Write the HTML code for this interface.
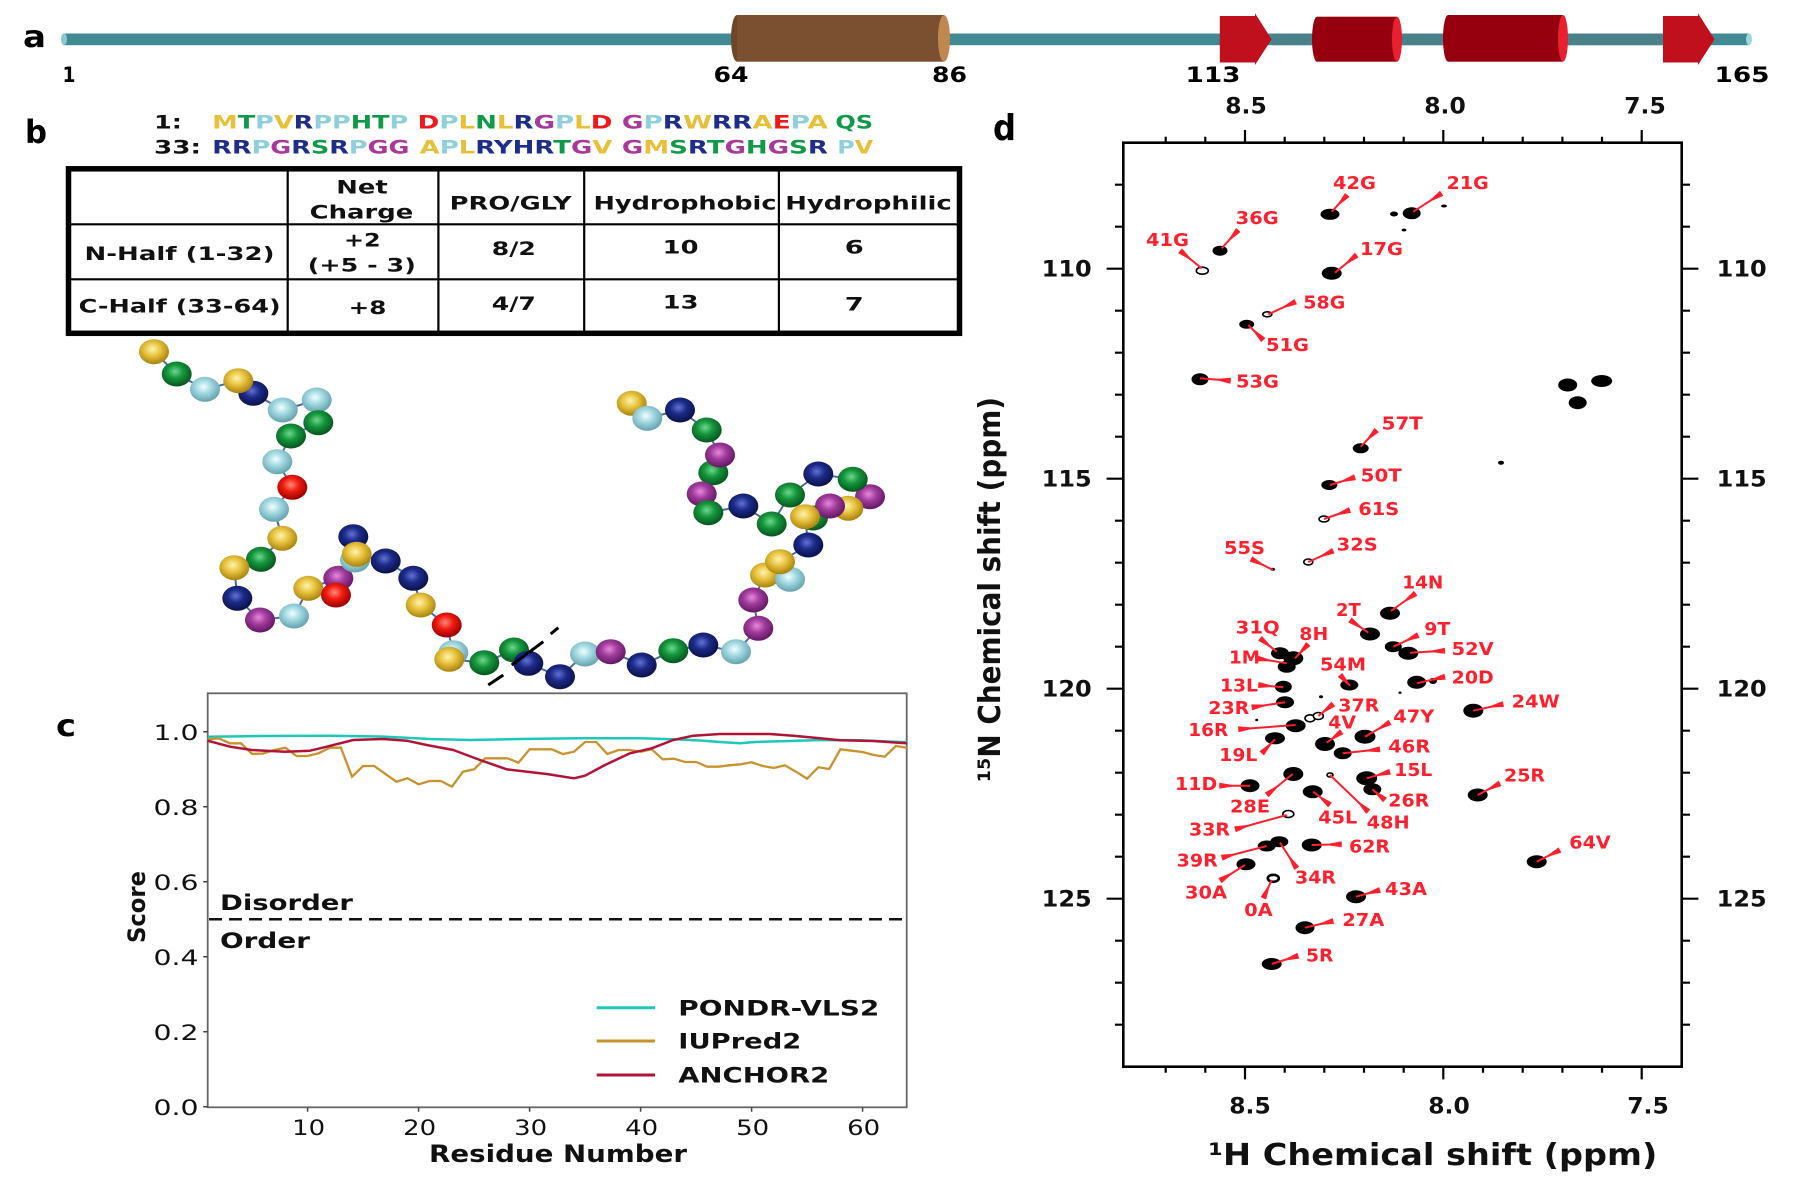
<!DOCTYPE html>
<html><head><meta charset="utf-8"><style>
html,body{margin:0;padding:0;background:#fff;}
svg{display:block;}
text{font-family:"DejaVu Sans","Liberation Sans",sans-serif;}
.b{font-weight:bold;}
.lab{font-weight:bold;font-size:18px;fill:#ff1f2d;}
.ld{stroke:#ff1f2d;stroke-width:2;marker-start:url(#w);}
</style></head><body>
<svg width="1795" height="1191" viewBox="0 0 1795 1191" xmlns="http://www.w3.org/2000/svg">
<defs>
<marker id="w" markerUnits="userSpaceOnUse" markerWidth="30" markerHeight="12" refX="0" refY="3" orient="auto" overflow="visible"><path d="M0,0 L15,2.5 L15,3.5 L0,6 Z" fill="#ff1f2d"/></marker>
<radialGradient id="gy" cx="0.45" cy="0.4" r="0.6"><stop offset="0" stop-color="#fff3b0"/><stop offset="0.45" stop-color="#e8c440"/><stop offset="1" stop-color="#a8820c"/></radialGradient>
<radialGradient id="gg" cx="0.45" cy="0.4" r="0.6"><stop offset="0" stop-color="#6ed88c"/><stop offset="0.45" stop-color="#14963c"/><stop offset="1" stop-color="#08541e"/></radialGradient>
<radialGradient id="gl" cx="0.45" cy="0.4" r="0.6"><stop offset="0" stop-color="#f0ffff"/><stop offset="0.45" stop-color="#a2d8e0"/><stop offset="1" stop-color="#64a2ae"/></radialGradient>
<radialGradient id="gn" cx="0.45" cy="0.4" r="0.6"><stop offset="0" stop-color="#6272d4"/><stop offset="0.45" stop-color="#1c2a88"/><stop offset="1" stop-color="#0a1248"/></radialGradient>
<radialGradient id="gr" cx="0.45" cy="0.4" r="0.6"><stop offset="0" stop-color="#ff8a78"/><stop offset="0.45" stop-color="#f01c10"/><stop offset="1" stop-color="#980000"/></radialGradient>
<radialGradient id="gm" cx="0.45" cy="0.4" r="0.6"><stop offset="0" stop-color="#e888de"/><stop offset="0.45" stop-color="#a03c9c"/><stop offset="1" stop-color="#641664"/></radialGradient>
</defs>

<!-- ===== Panel a ===== -->
<text x="23" y="47" class="b" font-size="30" textLength="23" lengthAdjust="spacingAndGlyphs">a</text>
<rect x="63" y="33.5" width="1686" height="11.7" fill="#3f8a93"/>
<ellipse cx="64" cy="39.3" rx="3" ry="5.85" fill="#8cc8ce"/>
<ellipse cx="1749" cy="39.3" rx="3" ry="5.85" fill="#9fd8dc"/>
<rect x="1272" y="33.5" width="390" height="11.7" fill="#4a8088"/>
<!-- brown cylinder -->
<ellipse cx="737" cy="38.35" rx="6" ry="23.35" fill="#6e4628"/>
<rect x="737" y="15" width="207" height="46.7" fill="#7a5030"/>
<ellipse cx="944" cy="38.35" rx="6" ry="23.35" fill="#c08850"/>
<!-- red arrows and cylinders -->
<polygon points="1219.8,16 1255,16 1255,13.3 1271.6,39.3 1255,65 1255,62.5 1219.8,62.5" fill="#c0101e"/>
<ellipse cx="1317" cy="39.2" rx="5" ry="22.5" fill="#96000e"/>
<rect x="1317" y="16.7" width="80" height="45" fill="#96000e"/>
<ellipse cx="1397" cy="39.2" rx="5" ry="22.5" fill="#e82030"/>
<ellipse cx="1448" cy="38.35" rx="5" ry="23.35" fill="#96000e"/>
<rect x="1448" y="15" width="115" height="46.7" fill="#96000e"/>
<ellipse cx="1563" cy="38.35" rx="5" ry="23.35" fill="#e82030"/>
<polygon points="1663,16 1698,16 1698,13.3 1714.6,39.3 1698,65 1698,62.5 1663,62.5" fill="#c0101e"/>
<g class="b" font-size="21" text-anchor="middle">
<text x="69" y="82" textLength="13" lengthAdjust="spacingAndGlyphs">1</text>
<text x="731" y="82" textLength="35" lengthAdjust="spacingAndGlyphs">64</text>
<text x="949.5" y="82" textLength="35" lengthAdjust="spacingAndGlyphs">86</text>
<text x="1213" y="82" textLength="55" lengthAdjust="spacingAndGlyphs">113</text>
<text x="1742" y="82" textLength="55" lengthAdjust="spacingAndGlyphs">165</text>
</g>

<!-- ===== Panel b ===== -->
<text x="25" y="143" class="b" font-size="32" textLength="22" lengthAdjust="spacingAndGlyphs">b</text>
<g class="b" font-size="18.5">
<text x="154" y="128.3" fill="#111" textLength="28" lengthAdjust="spacingAndGlyphs">1:</text>
<text x="154" y="153.3" fill="#111" textLength="47" lengthAdjust="spacingAndGlyphs">33:</text>
<text x="212.3" y="128.3" textLength="196" lengthAdjust="spacingAndGlyphs"><tspan fill="#e6c038">M</tspan><tspan fill="#0f9a48">T</tspan><tspan fill="#8fd0dc">P</tspan><tspan fill="#e6c038">V</tspan><tspan fill="#1e2d8a">R</tspan><tspan fill="#8fd0dc">PP</tspan><tspan fill="#0f9a48">HT</tspan><tspan fill="#8fd0dc">P</tspan></text>
<text x="417.7" y="128.3" textLength="194.7" lengthAdjust="spacingAndGlyphs"><tspan fill="#f01818">D</tspan><tspan fill="#8fd0dc">P</tspan><tspan fill="#e6c038">L</tspan><tspan fill="#0f9a48">N</tspan><tspan fill="#e6c038">L</tspan><tspan fill="#1e2d8a">R</tspan><tspan fill="#a8389a">G</tspan><tspan fill="#8fd0dc">P</tspan><tspan fill="#e6c038">L</tspan><tspan fill="#f01818">D</tspan></text>
<text x="621.9" y="128.3" textLength="206" lengthAdjust="spacingAndGlyphs"><tspan fill="#a8389a">G</tspan><tspan fill="#8fd0dc">P</tspan><tspan fill="#1e2d8a">R</tspan><tspan fill="#e6c038">W</tspan><tspan fill="#1e2d8a">RR</tspan><tspan fill="#e6c038">A</tspan><tspan fill="#f01818">E</tspan><tspan fill="#8fd0dc">P</tspan><tspan fill="#e6c038">A</tspan></text>
<text x="835.4" y="128.3" textLength="37.7" lengthAdjust="spacingAndGlyphs" fill="#0f9a48">QS</text>
<text x="212.3" y="153.3" textLength="197.2" lengthAdjust="spacingAndGlyphs"><tspan fill="#1e2d8a">RR</tspan><tspan fill="#8fd0dc">P</tspan><tspan fill="#a8389a">G</tspan><tspan fill="#1e2d8a">R</tspan><tspan fill="#0f9a48">S</tspan><tspan fill="#1e2d8a">R</tspan><tspan fill="#8fd0dc">P</tspan><tspan fill="#a8389a">GG</tspan></text>
<text x="419.6" y="153.3" textLength="192.8" lengthAdjust="spacingAndGlyphs"><tspan fill="#e6c038">A</tspan><tspan fill="#8fd0dc">P</tspan><tspan fill="#e6c038">L</tspan><tspan fill="#1e2d8a">RYHR</tspan><tspan fill="#0f9a48">T</tspan><tspan fill="#a8389a">G</tspan><tspan fill="#e6c038">V</tspan></text>
<text x="621.9" y="153.3" textLength="206" lengthAdjust="spacingAndGlyphs"><tspan fill="#a8389a">G</tspan><tspan fill="#e6c038">M</tspan><tspan fill="#0f9a48">S</tspan><tspan fill="#1e2d8a">R</tspan><tspan fill="#0f9a48">T</tspan><tspan fill="#a8389a">G</tspan><tspan fill="#0f9a48">H</tspan><tspan fill="#a8389a">G</tspan><tspan fill="#0f9a48">S</tspan><tspan fill="#1e2d8a">R</tspan></text>
<text x="837.3" y="153.3" textLength="35.8" lengthAdjust="spacingAndGlyphs"><tspan fill="#8fd0dc">P</tspan><tspan fill="#e6c038">V</tspan></text>
</g>
<!-- table -->
<rect x="68.5" y="168.8" width="891" height="164.5" fill="none" stroke="#000" stroke-width="5.5"/>
<g stroke="#000" stroke-width="2.2">
<line x1="287.7" y1="168" x2="287.7" y2="334"/>
<line x1="438.4" y1="168" x2="438.4" y2="334"/>
<line x1="584.2" y1="168" x2="584.2" y2="334"/>
<line x1="778.9" y1="168" x2="778.9" y2="334"/>
<line x1="68" y1="224.3" x2="960" y2="224.3"/>
<line x1="68" y1="279.3" x2="960" y2="279.3"/>
</g>
<g class="b" font-size="19" text-anchor="middle" fill="#111">
<text x="362" y="193.3" textLength="51.5" lengthAdjust="spacingAndGlyphs">Net</text>
<text x="361.5" y="218.3" textLength="103.6" lengthAdjust="spacingAndGlyphs">Charge</text>
<text x="510.7" y="209.5" textLength="122" lengthAdjust="spacingAndGlyphs">PRO/GLY</text>
<text x="685" y="209.5" textLength="183" lengthAdjust="spacingAndGlyphs">Hydrophobic</text>
<text x="868.5" y="209.5" textLength="166.5" lengthAdjust="spacingAndGlyphs">Hydrophilic</text>
<text x="179.5" y="260" textLength="190" lengthAdjust="spacingAndGlyphs">N-Half (1-32)</text>
<text x="362.3" y="246.7" textLength="36.6" lengthAdjust="spacingAndGlyphs">+2</text>
<text x="361.8" y="271.7" textLength="108" lengthAdjust="spacingAndGlyphs">(+5 - 3)</text>
<text x="513.8" y="255" textLength="44" lengthAdjust="spacingAndGlyphs">8/2</text>
<text x="680.6" y="253.3" textLength="35.8" lengthAdjust="spacingAndGlyphs">10</text>
<text x="854.3" y="253.3" textLength="19" lengthAdjust="spacingAndGlyphs">6</text>
<text x="179.6" y="312.7" textLength="202" lengthAdjust="spacingAndGlyphs">C-Half (33-64)</text>
<text x="367.5" y="314" textLength="37.7" lengthAdjust="spacingAndGlyphs">+8</text>
<text x="513.8" y="310" textLength="44" lengthAdjust="spacingAndGlyphs">4/7</text>
<text x="680.6" y="308.3" textLength="35.8" lengthAdjust="spacingAndGlyphs">13</text>
<text x="854.3" y="310.7" textLength="19" lengthAdjust="spacingAndGlyphs">7</text>
</g>
<!-- bead chain -->
<polyline fill="none" stroke="#4a6aa8" stroke-width="2" points="154,351.7 176.7,374 205,389.3 238.3,380.7 253.3,393.3 282.7,410 316.7,400 318.3,422.7 291,436 277.3,461.7 292.3,487.3 274,509.3 282.3,538.3 261,559.3 234.3,567.7 237.3,598.3 260,620 294,616 308.3,588.3 338.3,578.3 336,595 355,560 353.3,536.7 356.7,554.3 385.7,561 413.3,578.3 420.7,605 446.7,625 453.3,652.7 449.3,659.3 484.3,662.7 514,650 528.3,663.3 560,676.7 585,654 610.7,651.7 641.7,665 673.3,650.7 703.3,645 736,651.7 758.3,628.3 753.3,600 765,575 790,579.3 780,561.7 808.3,545 805,516.7 813,518 830,506 848.3,508.3 870,496.7 852.7,479.3 818.3,474 790,495 771.7,524 743.3,506 708.3,512.7 701.7,494 713.3,472.7 720,455 706.7,430 680,410 647.3,418.3 631.7,403.3"/>
<g>
<ellipse cx="154" cy="351.7" rx="15" ry="12.5" fill="url(#gy)"/>
<ellipse cx="176.7" cy="374" rx="15" ry="12.5" fill="url(#gg)"/>
<ellipse cx="205" cy="389.3" rx="15" ry="12.5" fill="url(#gl)"/>
<ellipse cx="253.3" cy="393.3" rx="15" ry="12.5" fill="url(#gn)"/>
<ellipse cx="238.3" cy="380.7" rx="15" ry="12.5" fill="url(#gy)"/>
<ellipse cx="316.7" cy="400" rx="15" ry="12.5" fill="url(#gl)"/>
<ellipse cx="318.3" cy="422.7" rx="15" ry="12.5" fill="url(#gg)"/>
<ellipse cx="282.7" cy="410" rx="15" ry="12.5" fill="url(#gl)"/>
<ellipse cx="291" cy="436" rx="15" ry="12.5" fill="url(#gg)"/>
<ellipse cx="277.3" cy="461.7" rx="15" ry="12.5" fill="url(#gl)"/>
<ellipse cx="292.3" cy="487.3" rx="15" ry="12.5" fill="url(#gr)"/>
<ellipse cx="274" cy="509.3" rx="15" ry="12.5" fill="url(#gl)"/>
<ellipse cx="282.3" cy="538.3" rx="15" ry="12.5" fill="url(#gy)"/>
<ellipse cx="261" cy="559.3" rx="15" ry="12.5" fill="url(#gg)"/>
<ellipse cx="234.3" cy="567.7" rx="15" ry="12.5" fill="url(#gy)"/>
<ellipse cx="237.3" cy="598.3" rx="15" ry="12.5" fill="url(#gn)"/>
<ellipse cx="260" cy="620" rx="15" ry="12.5" fill="url(#gm)"/>
<ellipse cx="294" cy="616" rx="15" ry="12.5" fill="url(#gl)"/>
<ellipse cx="338.3" cy="578.3" rx="15" ry="12.5" fill="url(#gm)"/>
<ellipse cx="308.3" cy="588.3" rx="15" ry="12.5" fill="url(#gy)"/>
<ellipse cx="336" cy="595" rx="15" ry="12.5" fill="url(#gr)"/>
<ellipse cx="355" cy="560" rx="15" ry="12.5" fill="url(#gl)"/>
<ellipse cx="353.3" cy="536.7" rx="15" ry="12.5" fill="url(#gn)"/>
<ellipse cx="356.7" cy="554.3" rx="15" ry="12.5" fill="url(#gy)"/>
<ellipse cx="385.7" cy="561" rx="15" ry="12.5" fill="url(#gn)"/>
<ellipse cx="413.3" cy="578.3" rx="15" ry="12.5" fill="url(#gn)"/>
<ellipse cx="420.7" cy="605" rx="15" ry="12.5" fill="url(#gy)"/>
<ellipse cx="446.7" cy="625" rx="15" ry="12.5" fill="url(#gr)"/>
<ellipse cx="453.3" cy="652.7" rx="15" ry="12.5" fill="url(#gl)"/>
<ellipse cx="449.3" cy="659.3" rx="15" ry="12.5" fill="url(#gy)"/>
<ellipse cx="484.3" cy="662.7" rx="15" ry="12.5" fill="url(#gg)"/>
<ellipse cx="514" cy="650" rx="15" ry="12.5" fill="url(#gg)"/>
<ellipse cx="528.3" cy="663.3" rx="15" ry="12.5" fill="url(#gn)"/>
<ellipse cx="560" cy="676.7" rx="15" ry="12.5" fill="url(#gn)"/>
<ellipse cx="585" cy="654" rx="15" ry="12.5" fill="url(#gl)"/>
<ellipse cx="610.7" cy="651.7" rx="15" ry="12.5" fill="url(#gm)"/>
<ellipse cx="641.7" cy="665" rx="15" ry="12.5" fill="url(#gn)"/>
<ellipse cx="673.3" cy="650.7" rx="15" ry="12.5" fill="url(#gg)"/>
<ellipse cx="703.3" cy="645" rx="15" ry="12.5" fill="url(#gn)"/>
<ellipse cx="736" cy="651.7" rx="15" ry="12.5" fill="url(#gl)"/>
<ellipse cx="758.3" cy="628.3" rx="15" ry="12.5" fill="url(#gm)"/>
<ellipse cx="753.3" cy="600" rx="15" ry="12.5" fill="url(#gm)"/>
<ellipse cx="765" cy="575" rx="15" ry="12.5" fill="url(#gy)"/>
<ellipse cx="790" cy="579.3" rx="15" ry="12.5" fill="url(#gl)"/>
<ellipse cx="780" cy="561.7" rx="15" ry="12.5" fill="url(#gy)"/>
<ellipse cx="808.3" cy="545" rx="15" ry="12.5" fill="url(#gn)"/>
<ellipse cx="870" cy="496.7" rx="15" ry="12.5" fill="url(#gm)"/>
<ellipse cx="852.7" cy="479.3" rx="15" ry="12.5" fill="url(#gg)"/>
<ellipse cx="818.3" cy="474" rx="15" ry="12.5" fill="url(#gn)"/>
<ellipse cx="790" cy="495" rx="15" ry="12.5" fill="url(#gg)"/>
<ellipse cx="848.3" cy="508.3" rx="15" ry="12.5" fill="url(#gy)"/>
<ellipse cx="813" cy="518" rx="15" ry="12.5" fill="url(#gg)"/>
<ellipse cx="830" cy="506" rx="15" ry="12.5" fill="url(#gm)"/>
<ellipse cx="805" cy="516.7" rx="15" ry="12.5" fill="url(#gy)"/>
<ellipse cx="771.7" cy="524" rx="15" ry="12.5" fill="url(#gg)"/>
<ellipse cx="743.3" cy="506" rx="15" ry="12.5" fill="url(#gn)"/>
<ellipse cx="713.3" cy="472.7" rx="15" ry="12.5" fill="url(#gg)"/>
<ellipse cx="701.7" cy="494" rx="15" ry="12.5" fill="url(#gm)"/>
<ellipse cx="708.3" cy="512.7" rx="15" ry="12.5" fill="url(#gg)"/>
<ellipse cx="720" cy="455" rx="15" ry="12.5" fill="url(#gm)"/>
<ellipse cx="706.7" cy="430" rx="15" ry="12.5" fill="url(#gg)"/>
<ellipse cx="680" cy="410" rx="15" ry="12.5" fill="url(#gn)"/>
<ellipse cx="631.7" cy="403.3" rx="15" ry="12.5" fill="url(#gy)"/>
<ellipse cx="647.3" cy="418.3" rx="15" ry="12.5" fill="url(#gl)"/>
</g>
<path d="M488.3,685 L503.3,675 M511.7,665 L543.3,641.7 M550.7,634 L558.3,627.7" stroke="#000" stroke-width="3" fill="none"/>

<!-- ===== Panel c ===== -->
<text x="56" y="736" class="b" font-size="30" textLength="20" lengthAdjust="spacingAndGlyphs">c</text>
<rect x="207.7" y="693.3" width="699" height="414" fill="none" stroke="#666" stroke-width="1.8"/>
<g stroke="#444" stroke-width="1.5">
<path d="M207.7,731.7h-4.5M207.7,806.7h-4.5M207.7,881.7h-4.5M207.7,956.7h-4.5M207.7,1031.7h-4.5M207.7,1106.7h-4.5"/>
<path d="M307.6,1107.3v4.5M418.6,1107.3v4.5M529.6,1107.3v4.5M640.6,1107.3v4.5M751.6,1107.3v4.5M862.6,1107.3v4.5"/>
</g>
<g font-size="21" text-anchor="end" fill="#111">
<text x="198.5" y="740" textLength="45" lengthAdjust="spacingAndGlyphs">1.0</text>
<text x="198.5" y="815" textLength="45" lengthAdjust="spacingAndGlyphs">0.8</text>
<text x="198.5" y="890" textLength="45" lengthAdjust="spacingAndGlyphs">0.6</text>
<text x="198.5" y="965" textLength="45" lengthAdjust="spacingAndGlyphs">0.4</text>
<text x="198.5" y="1040" textLength="45" lengthAdjust="spacingAndGlyphs">0.2</text>
<text x="198.5" y="1115" textLength="45" lengthAdjust="spacingAndGlyphs">0.0</text>
</g>
<g font-size="21" text-anchor="middle" fill="#111">
<text x="308.6" y="1135" textLength="33" lengthAdjust="spacingAndGlyphs">10</text>
<text x="419.6" y="1135" textLength="33" lengthAdjust="spacingAndGlyphs">20</text>
<text x="530.6" y="1135" textLength="33" lengthAdjust="spacingAndGlyphs">30</text>
<text x="641.6" y="1135" textLength="33" lengthAdjust="spacingAndGlyphs">40</text>
<text x="752.6" y="1135" textLength="33" lengthAdjust="spacingAndGlyphs">50</text>
<text x="863.6" y="1135" textLength="33" lengthAdjust="spacingAndGlyphs">60</text>
</g>
<text x="429" y="1162" class="b" font-size="24" textLength="258" lengthAdjust="spacingAndGlyphs" fill="#111">Residue Number</text>
<text transform="translate(145,907) rotate(-90)" text-anchor="middle" class="b" font-size="24" textLength="72" lengthAdjust="spacingAndGlyphs" fill="#111">Score</text>
<line x1="209" y1="919.3" x2="906" y2="919.3" stroke="#111" stroke-width="2.5" stroke-dasharray="13,7"/>
<text x="220" y="910" class="b" font-size="21.5" textLength="133" lengthAdjust="spacingAndGlyphs" fill="#111">Disorder</text>
<text x="220" y="948" class="b" font-size="21.5" textLength="90" lengthAdjust="spacingAndGlyphs" fill="#111">Order</text>
<polyline fill="none" stroke="#1ec8b8" stroke-width="2.5" points="207.7,736.7 260,736 330,735.7 380,736.5 430,739 470,740 520,739 580,738.3 640,738.3 680,739.5 700,740.5 720,742 740,743.3 755,742 790,741 820,740 860,740.3 907,742.3"/>
<polyline fill="none" stroke="#c8922f" stroke-width="2.3" points="207.7,739.3 218.8,738.3 229.9,743.3 241,743.3 252.1,754 263.2,753.5 274.3,750 285.4,747.7 296.5,756 307.6,756 318.7,753.3 329.8,747.7 340.9,747.7 352,776.7 363.1,766 374.2,766 396.4,781.7 407.5,778.3 418.6,784.3 429.7,781 440.8,781 451.9,786.7 463,771.7 474.1,769.3 485.2,758.3 507.4,758.3 518.5,762.7 529.6,749.3 551.8,749.3 562.9,754 574,751.7 585.1,742 596.2,742 607.3,754 618.4,750 629.5,750 640.6,751.7 651.7,749.3 662.8,759.3 673.9,758.7 685,762 696.1,762 707.2,766.7 718.3,766.7 729.4,765.3 740.5,764.3 751.6,762.3 762.7,766 773.8,768 784.9,765.3 796,771.7 807.1,778.7 818.2,767.3 829.3,769 840.4,749.3 851.5,750.7 862.6,752 873.7,755 884.8,756.7 895.9,746 907,747.7"/>
<polyline fill="none" stroke="#b01437" stroke-width="2.5" stroke-linejoin="round" points="207.7,740.7 230,746.7 251.7,750 285,751.7 310,750.7 326.7,746.7 353.3,740 383.3,739 406.7,740.7 426.7,745 453.3,750 480,760 506.7,769.3 546.7,774 574,778.3 585,775.7 605,765 630,753.3 651.7,748.3 673.3,740 693.3,735.7 720,734 770,734 793.3,735.7 820,738.3 840,740.3 873.3,741 907,743.3"/>
<line x1="596.7" y1="1007.7" x2="655" y2="1007.7" stroke="#1ec8b8" stroke-width="3"/>
<line x1="596.7" y1="1041" x2="655" y2="1041" stroke="#c8922f" stroke-width="3"/>
<line x1="596.7" y1="1075" x2="655" y2="1075" stroke="#b01437" stroke-width="3"/>
<g class="b" font-size="21.5" fill="#111">
<text x="678.3" y="1015.5" textLength="201" lengthAdjust="spacingAndGlyphs">PONDR-VLS2</text>
<text x="678.3" y="1048.5" textLength="123" lengthAdjust="spacingAndGlyphs">IUPred2</text>
<text x="678.3" y="1082.5" textLength="151" lengthAdjust="spacingAndGlyphs">ANCHOR2</text>
</g>

<!-- ===== Panel d ===== -->
<text x="993" y="140" class="b" font-size="36" textLength="23" lengthAdjust="spacingAndGlyphs">d</text>
<rect x="1123.3" y="142.7" width="558.4" height="924" fill="none" stroke="#000" stroke-width="2.6"/>
<g stroke="#000" stroke-width="2.2" fill="none">
<path d="M1165.7,142.7v-6M1205.3,142.7v-6M1245,142.7v-12.7M1284.7,142.7v-6M1324.3,142.7v-6M1364,142.7v-6M1403.7,142.7v-6M1443.3,142.7v-12.7M1483,142.7v-6M1522.7,142.7v-6M1562.4,142.7v-6M1602,142.7v-6M1641.7,142.7v-12.7"/>
<path d="M1165.7,1066.7v6M1205.3,1066.7v6M1245,1066.7v12.7M1284.7,1066.7v6M1324.3,1066.7v6M1364,1066.7v6M1403.7,1066.7v6M1443.3,1066.7v12.7M1483,1066.7v6M1522.7,1066.7v6M1562.4,1066.7v6M1602,1066.7v6M1641.7,1066.7v12.7"/>
<path d="M1123.3,184.7h-8.3M1123.3,226.7h-8.3M1123.3,268.7h-16.7M1123.3,310.7h-8.3M1123.3,352.7h-8.3M1123.3,394.7h-8.3M1123.3,436.7h-8.3M1123.3,478.7h-16.7M1123.3,520.7h-8.3M1123.3,562.7h-8.3M1123.3,604.7h-8.3M1123.3,646.7h-8.3M1123.3,688.7h-16.7M1123.3,730.7h-8.3M1123.3,772.7h-8.3M1123.3,814.7h-8.3M1123.3,856.7h-8.3M1123.3,898.7h-16.7M1123.3,940.7h-8.3M1123.3,982.7h-8.3M1123.3,1024.7h-8.3"/>
<path d="M1681.7,184.7h8.3M1681.7,226.7h8.3M1681.7,268.7h16.7M1681.7,310.7h8.3M1681.7,352.7h8.3M1681.7,394.7h8.3M1681.7,436.7h8.3M1681.7,478.7h16.7M1681.7,520.7h8.3M1681.7,562.7h8.3M1681.7,604.7h8.3M1681.7,646.7h8.3M1681.7,688.7h16.7M1681.7,730.7h8.3M1681.7,772.7h8.3M1681.7,814.7h8.3M1681.7,856.7h8.3M1681.7,898.7h16.7M1681.7,940.7h8.3M1681.7,982.7h8.3M1681.7,1024.7h8.3"/>
</g>
<g class="b" font-size="22" fill="#111">
<g text-anchor="middle">
<text x="1246" y="113.3" textLength="41.5" lengthAdjust="spacingAndGlyphs">8.5</text>
<text x="1445" y="113.3" textLength="41.5" lengthAdjust="spacingAndGlyphs">8.0</text>
<text x="1645" y="113.3" textLength="41.5" lengthAdjust="spacingAndGlyphs">7.5</text>
<text x="1250" y="1113.3" textLength="41.5" lengthAdjust="spacingAndGlyphs">8.5</text>
<text x="1449" y="1113.3" textLength="41.5" lengthAdjust="spacingAndGlyphs">8.0</text>
<text x="1648" y="1113.3" textLength="41.5" lengthAdjust="spacingAndGlyphs">7.5</text>
</g>
<g text-anchor="end">
<text x="1091.7" y="276.7" textLength="50" lengthAdjust="spacingAndGlyphs">110</text>
<text x="1091.7" y="486.7" textLength="50" lengthAdjust="spacingAndGlyphs">115</text>
<text x="1091.7" y="696.7" textLength="50" lengthAdjust="spacingAndGlyphs">120</text>
<text x="1091.7" y="906.7" textLength="50" lengthAdjust="spacingAndGlyphs">125</text>
</g>
<text x="1716.7" y="276.7" textLength="50" lengthAdjust="spacingAndGlyphs">110</text>
<text x="1716.7" y="486.7" textLength="50" lengthAdjust="spacingAndGlyphs">115</text>
<text x="1716.7" y="696.7" textLength="50" lengthAdjust="spacingAndGlyphs">120</text>
<text x="1716.7" y="906.7" textLength="50" lengthAdjust="spacingAndGlyphs">125</text>
</g>
<text x="1208.3" y="1165" class="b" font-size="30" textLength="449" lengthAdjust="spacingAndGlyphs" fill="#111">¹H Chemical shift (ppm)</text>
<text transform="translate(1000,589.5) rotate(-90)" text-anchor="middle" class="b" font-size="30" textLength="385" lengthAdjust="spacingAndGlyphs" fill="#111">¹⁵N Chemical shift (ppm)</text>

<!-- peaks -->
<g fill="#000">
<ellipse cx="1330" cy="214.3" rx="9.5" ry="5.5"/>
<ellipse cx="1411.7" cy="213.3" rx="9" ry="6"/>
<ellipse cx="1394" cy="214" rx="4" ry="2.5"/>
<ellipse cx="1444" cy="206" rx="3" ry="1.5"/>
<ellipse cx="1404" cy="230" rx="2.5" ry="1.5"/>
<ellipse cx="1220" cy="250.7" rx="7.5" ry="5"/>
<ellipse cx="1331.7" cy="273.3" rx="10" ry="6.5"/>
<ellipse cx="1246.7" cy="324.3" rx="7.5" ry="4.5"/>
<ellipse cx="1200" cy="379.3" rx="8.5" ry="6"/>
<ellipse cx="1567.7" cy="385" rx="9.5" ry="6.5"/>
<ellipse cx="1601.7" cy="381" rx="10.5" ry="6"/>
<ellipse cx="1577.7" cy="402.7" rx="9" ry="6.5"/>
<ellipse cx="1501" cy="462.7" rx="3" ry="2"/>
<ellipse cx="1360.7" cy="448.3" rx="8" ry="5"/>
<ellipse cx="1329.3" cy="485" rx="8" ry="5"/>
<ellipse cx="1272.7" cy="569.3" rx="2.5" ry="1.5"/>
<ellipse cx="1390" cy="613.3" rx="10" ry="6.5"/>
<ellipse cx="1370" cy="634" rx="10" ry="6.5"/>
<ellipse cx="1280" cy="653.3" rx="9" ry="6"/>
<ellipse cx="1293.3" cy="658.3" rx="10" ry="7"/>
<ellipse cx="1286.7" cy="666.7" rx="9" ry="6"/>
<ellipse cx="1393.3" cy="646.7" rx="8.5" ry="5.5"/>
<ellipse cx="1408.3" cy="653.3" rx="10" ry="6.5"/>
<ellipse cx="1349.3" cy="685" rx="9" ry="5.5"/>
<ellipse cx="1416.7" cy="682.3" rx="9.5" ry="6.5"/>
<ellipse cx="1433" cy="681" rx="4" ry="3"/>
<ellipse cx="1283.3" cy="686.7" rx="8.5" ry="6"/>
<ellipse cx="1321" cy="696.7" rx="2" ry="1.5"/>
<ellipse cx="1400" cy="692.7" rx="1.5" ry="1.2"/>
<ellipse cx="1285" cy="702.3" rx="9" ry="6"/>
<ellipse cx="1295.7" cy="725.7" rx="10" ry="6.5"/>
<ellipse cx="1256.7" cy="720" rx="1.5" ry="1.2"/>
<ellipse cx="1473.3" cy="710.7" rx="10" ry="7"/>
<ellipse cx="1325" cy="744" rx="10" ry="7"/>
<ellipse cx="1365" cy="736.7" rx="10.5" ry="7"/>
<ellipse cx="1275" cy="738.3" rx="10" ry="6"/>
<ellipse cx="1342.7" cy="753.3" rx="9" ry="6"/>
<ellipse cx="1293.3" cy="774" rx="10" ry="7"/>
<ellipse cx="1250" cy="785.7" rx="9.5" ry="6.5"/>
<ellipse cx="1366.7" cy="778.3" rx="10.5" ry="7"/>
<ellipse cx="1372.3" cy="789.3" rx="9" ry="6"/>
<ellipse cx="1312.7" cy="791.7" rx="10" ry="6.5"/>
<ellipse cx="1477.7" cy="795" rx="10" ry="6.5"/>
<ellipse cx="1311.7" cy="845" rx="10" ry="6.5"/>
<ellipse cx="1279.3" cy="841.7" rx="9" ry="5.5"/>
<ellipse cx="1266.7" cy="846" rx="9" ry="5.5"/>
<ellipse cx="1536.7" cy="861.7" rx="10" ry="6.5"/>
<ellipse cx="1246" cy="864.3" rx="9.5" ry="6"/>
<ellipse cx="1356" cy="896.7" rx="10" ry="6.5"/>
<ellipse cx="1305" cy="927.7" rx="9.5" ry="6.5"/>
<ellipse cx="1271.7" cy="964" rx="10" ry="6"/>
</g>
<g fill="#fff" stroke="#000" stroke-width="1.6">
<ellipse cx="1202.3" cy="270.7" rx="6" ry="3.5"/>
<ellipse cx="1267.3" cy="314.3" rx="4.5" ry="2.5"/>
<ellipse cx="1324" cy="519" rx="5" ry="3"/>
<ellipse cx="1308.3" cy="562" rx="4.5" ry="3"/>
<ellipse cx="1310" cy="718.3" rx="5" ry="3.5"/>
<ellipse cx="1318.3" cy="716" rx="5" ry="3.5"/>
<ellipse cx="1330" cy="775" rx="3" ry="2"/>
<ellipse cx="1288.3" cy="814" rx="5.5" ry="3.5"/>
<ellipse cx="1273.3" cy="878.3" rx="5.5" ry="3.5" stroke-width="2.6"/>
</g>

<!-- leaders -->
<g class="ld">
<line x1="1347.3" y1="195" x2="1331.7" y2="211.7"/>
<line x1="1441.7" y1="193.3" x2="1413.3" y2="211.7"/>
<line x1="1238.3" y1="230" x2="1221.7" y2="248.3"/>
<line x1="1180" y1="250.7" x2="1201.7" y2="268.3"/>
<line x1="1356.7" y1="255" x2="1335" y2="272.7"/>
<line x1="1295.7" y1="301.7" x2="1268.3" y2="314.3"/>
<line x1="1263.3" y1="340" x2="1248.3" y2="325"/>
<line x1="1230.7" y1="380.7" x2="1200" y2="378.3"/>
<line x1="1376.7" y1="430" x2="1360.7" y2="446.7"/>
<line x1="1355" y1="477.3" x2="1330" y2="485"/>
<line x1="1350" y1="510" x2="1324" y2="519"/>
<line x1="1333.3" y1="550.7" x2="1308.3" y2="562"/>
<line x1="1251" y1="559" x2="1273" y2="570"/>
<line x1="1415.7" y1="593.3" x2="1391" y2="611"/>
<line x1="1350" y1="620" x2="1368.3" y2="632.7"/>
<line x1="1260" y1="638.3" x2="1276.7" y2="651.7"/>
<line x1="1308.3" y1="644" x2="1295" y2="658.3"/>
<line x1="1256.7" y1="658.3" x2="1286.7" y2="663.3"/>
<line x1="1418.3" y1="635" x2="1393.3" y2="646.7"/>
<line x1="1445" y1="650.7" x2="1410" y2="652.7"/>
<line x1="1340" y1="675" x2="1349.3" y2="685"/>
<line x1="1445" y1="676.7" x2="1416.7" y2="683.3"/>
<line x1="1258.3" y1="685" x2="1283.3" y2="687.3"/>
<line x1="1251.7" y1="707.3" x2="1285" y2="702.3"/>
<line x1="1333.3" y1="704" x2="1318.3" y2="716"/>
<line x1="1238.3" y1="729.3" x2="1295.7" y2="725"/>
<line x1="1503.3" y1="704" x2="1473.3" y2="710.7"/>
<line x1="1341.7" y1="731.7" x2="1326.7" y2="742.7"/>
<line x1="1390" y1="722.3" x2="1365" y2="736.7"/>
<line x1="1261.7" y1="753.3" x2="1275" y2="739.3"/>
<line x1="1380" y1="749.3" x2="1342.7" y2="753.3"/>
<line x1="1266.7" y1="795" x2="1292.7" y2="774"/>
<line x1="1219.3" y1="785.7" x2="1250" y2="785.7"/>
<line x1="1368.3" y1="811.7" x2="1330" y2="775"/>
<line x1="1390" y1="771.7" x2="1366.7" y2="778.3"/>
<line x1="1385" y1="800" x2="1372.3" y2="789.3"/>
<line x1="1330" y1="805" x2="1313.3" y2="791.7"/>
<line x1="1500" y1="783.3" x2="1477.7" y2="795"/>
<line x1="1235" y1="829.3" x2="1286.7" y2="815"/>
<line x1="1341.7" y1="844.3" x2="1311.7" y2="845"/>
<line x1="1296.7" y1="868.3" x2="1280" y2="842.7"/>
<line x1="1221.7" y1="857.7" x2="1266.7" y2="846"/>
<line x1="1560" y1="850" x2="1536.7" y2="861.7"/>
<line x1="1220" y1="880.7" x2="1245" y2="865"/>
<line x1="1263.3" y1="898.3" x2="1271.7" y2="880"/>
<line x1="1380" y1="890" x2="1356" y2="896.7"/>
<line x1="1333.3" y1="921" x2="1305" y2="927.7"/>
<line x1="1298.3" y1="955.7" x2="1271.7" y2="964"/>
</g>

<!-- peak labels -->
<g class="lab">
<text x="1333" y="189" textLength="43" lengthAdjust="spacingAndGlyphs">42G</text>
<text x="1446.7" y="189" textLength="42" lengthAdjust="spacingAndGlyphs">21G</text>
<text x="1235.7" y="224" textLength="43" lengthAdjust="spacingAndGlyphs">36G</text>
<text x="1146" y="246" textLength="43" lengthAdjust="spacingAndGlyphs">41G</text>
<text x="1360" y="255" textLength="43" lengthAdjust="spacingAndGlyphs">17G</text>
<text x="1303.3" y="308.3" textLength="42" lengthAdjust="spacingAndGlyphs">58G</text>
<text x="1266" y="351" textLength="43" lengthAdjust="spacingAndGlyphs">51G</text>
<text x="1236" y="387.3" textLength="43" lengthAdjust="spacingAndGlyphs">53G</text>
<text x="1381.7" y="429.3" textLength="41" lengthAdjust="spacingAndGlyphs">57T</text>
<text x="1360.7" y="481.7" textLength="41" lengthAdjust="spacingAndGlyphs">50T</text>
<text x="1358.3" y="515" textLength="41" lengthAdjust="spacingAndGlyphs">61S</text>
<text x="1336.7" y="550.7" textLength="41" lengthAdjust="spacingAndGlyphs">32S</text>
<text x="1224" y="554" textLength="41" lengthAdjust="spacingAndGlyphs">55S</text>
<text x="1402.3" y="588.3" textLength="41" lengthAdjust="spacingAndGlyphs">14N</text>
<text x="1336" y="616" textLength="24.7" lengthAdjust="spacingAndGlyphs">2T</text>
<text x="1235.7" y="633.3" textLength="44" lengthAdjust="spacingAndGlyphs">31Q</text>
<text x="1299.3" y="640" textLength="29" lengthAdjust="spacingAndGlyphs">8H</text>
<text x="1229" y="663.3" textLength="31" lengthAdjust="spacingAndGlyphs">1M</text>
<text x="1424.3" y="635" textLength="26" lengthAdjust="spacingAndGlyphs">9T</text>
<text x="1451.7" y="655" textLength="42" lengthAdjust="spacingAndGlyphs">52V</text>
<text x="1320" y="670.7" textLength="46" lengthAdjust="spacingAndGlyphs">54M</text>
<text x="1451.7" y="683.3" textLength="42" lengthAdjust="spacingAndGlyphs">20D</text>
<text x="1220" y="691.7" textLength="38" lengthAdjust="spacingAndGlyphs">13L</text>
<text x="1208.3" y="714" textLength="41" lengthAdjust="spacingAndGlyphs">23R</text>
<text x="1338.3" y="711.7" textLength="41" lengthAdjust="spacingAndGlyphs">37R</text>
<text x="1188.3" y="736" textLength="40" lengthAdjust="spacingAndGlyphs">16R</text>
<text x="1511.7" y="707.3" textLength="48" lengthAdjust="spacingAndGlyphs">24W</text>
<text x="1328.3" y="728.3" textLength="27.7" lengthAdjust="spacingAndGlyphs">4V</text>
<text x="1393.3" y="722.7" textLength="41" lengthAdjust="spacingAndGlyphs">47Y</text>
<text x="1219.3" y="761" textLength="38" lengthAdjust="spacingAndGlyphs">19L</text>
<text x="1388.3" y="752.7" textLength="42" lengthAdjust="spacingAndGlyphs">46R</text>
<text x="1230" y="812.3" textLength="40" lengthAdjust="spacingAndGlyphs">28E</text>
<text x="1175" y="790" textLength="42.3" lengthAdjust="spacingAndGlyphs">11D</text>
<text x="1366.7" y="828.3" textLength="43" lengthAdjust="spacingAndGlyphs">48H</text>
<text x="1394.3" y="776" textLength="38" lengthAdjust="spacingAndGlyphs">15L</text>
<text x="1388.3" y="806.7" textLength="41" lengthAdjust="spacingAndGlyphs">26R</text>
<text x="1318.3" y="823.3" textLength="39" lengthAdjust="spacingAndGlyphs">45L</text>
<text x="1504" y="781.7" textLength="41" lengthAdjust="spacingAndGlyphs">25R</text>
<text x="1189" y="835.7" textLength="41" lengthAdjust="spacingAndGlyphs">33R</text>
<text x="1349" y="852.7" textLength="41" lengthAdjust="spacingAndGlyphs">62R</text>
<text x="1295" y="883.3" textLength="41" lengthAdjust="spacingAndGlyphs">34R</text>
<text x="1176.7" y="866.7" textLength="41" lengthAdjust="spacingAndGlyphs">39R</text>
<text x="1569.3" y="848.3" textLength="41.3" lengthAdjust="spacingAndGlyphs">64V</text>
<text x="1185" y="898.3" textLength="42" lengthAdjust="spacingAndGlyphs">30A</text>
<text x="1244.3" y="916" textLength="28.3" lengthAdjust="spacingAndGlyphs">0A</text>
<text x="1385" y="895" textLength="42" lengthAdjust="spacingAndGlyphs">43A</text>
<text x="1342.3" y="926" textLength="42" lengthAdjust="spacingAndGlyphs">27A</text>
<text x="1306" y="961.7" textLength="27.3" lengthAdjust="spacingAndGlyphs">5R</text>
</g>
</svg>
</body></html>
